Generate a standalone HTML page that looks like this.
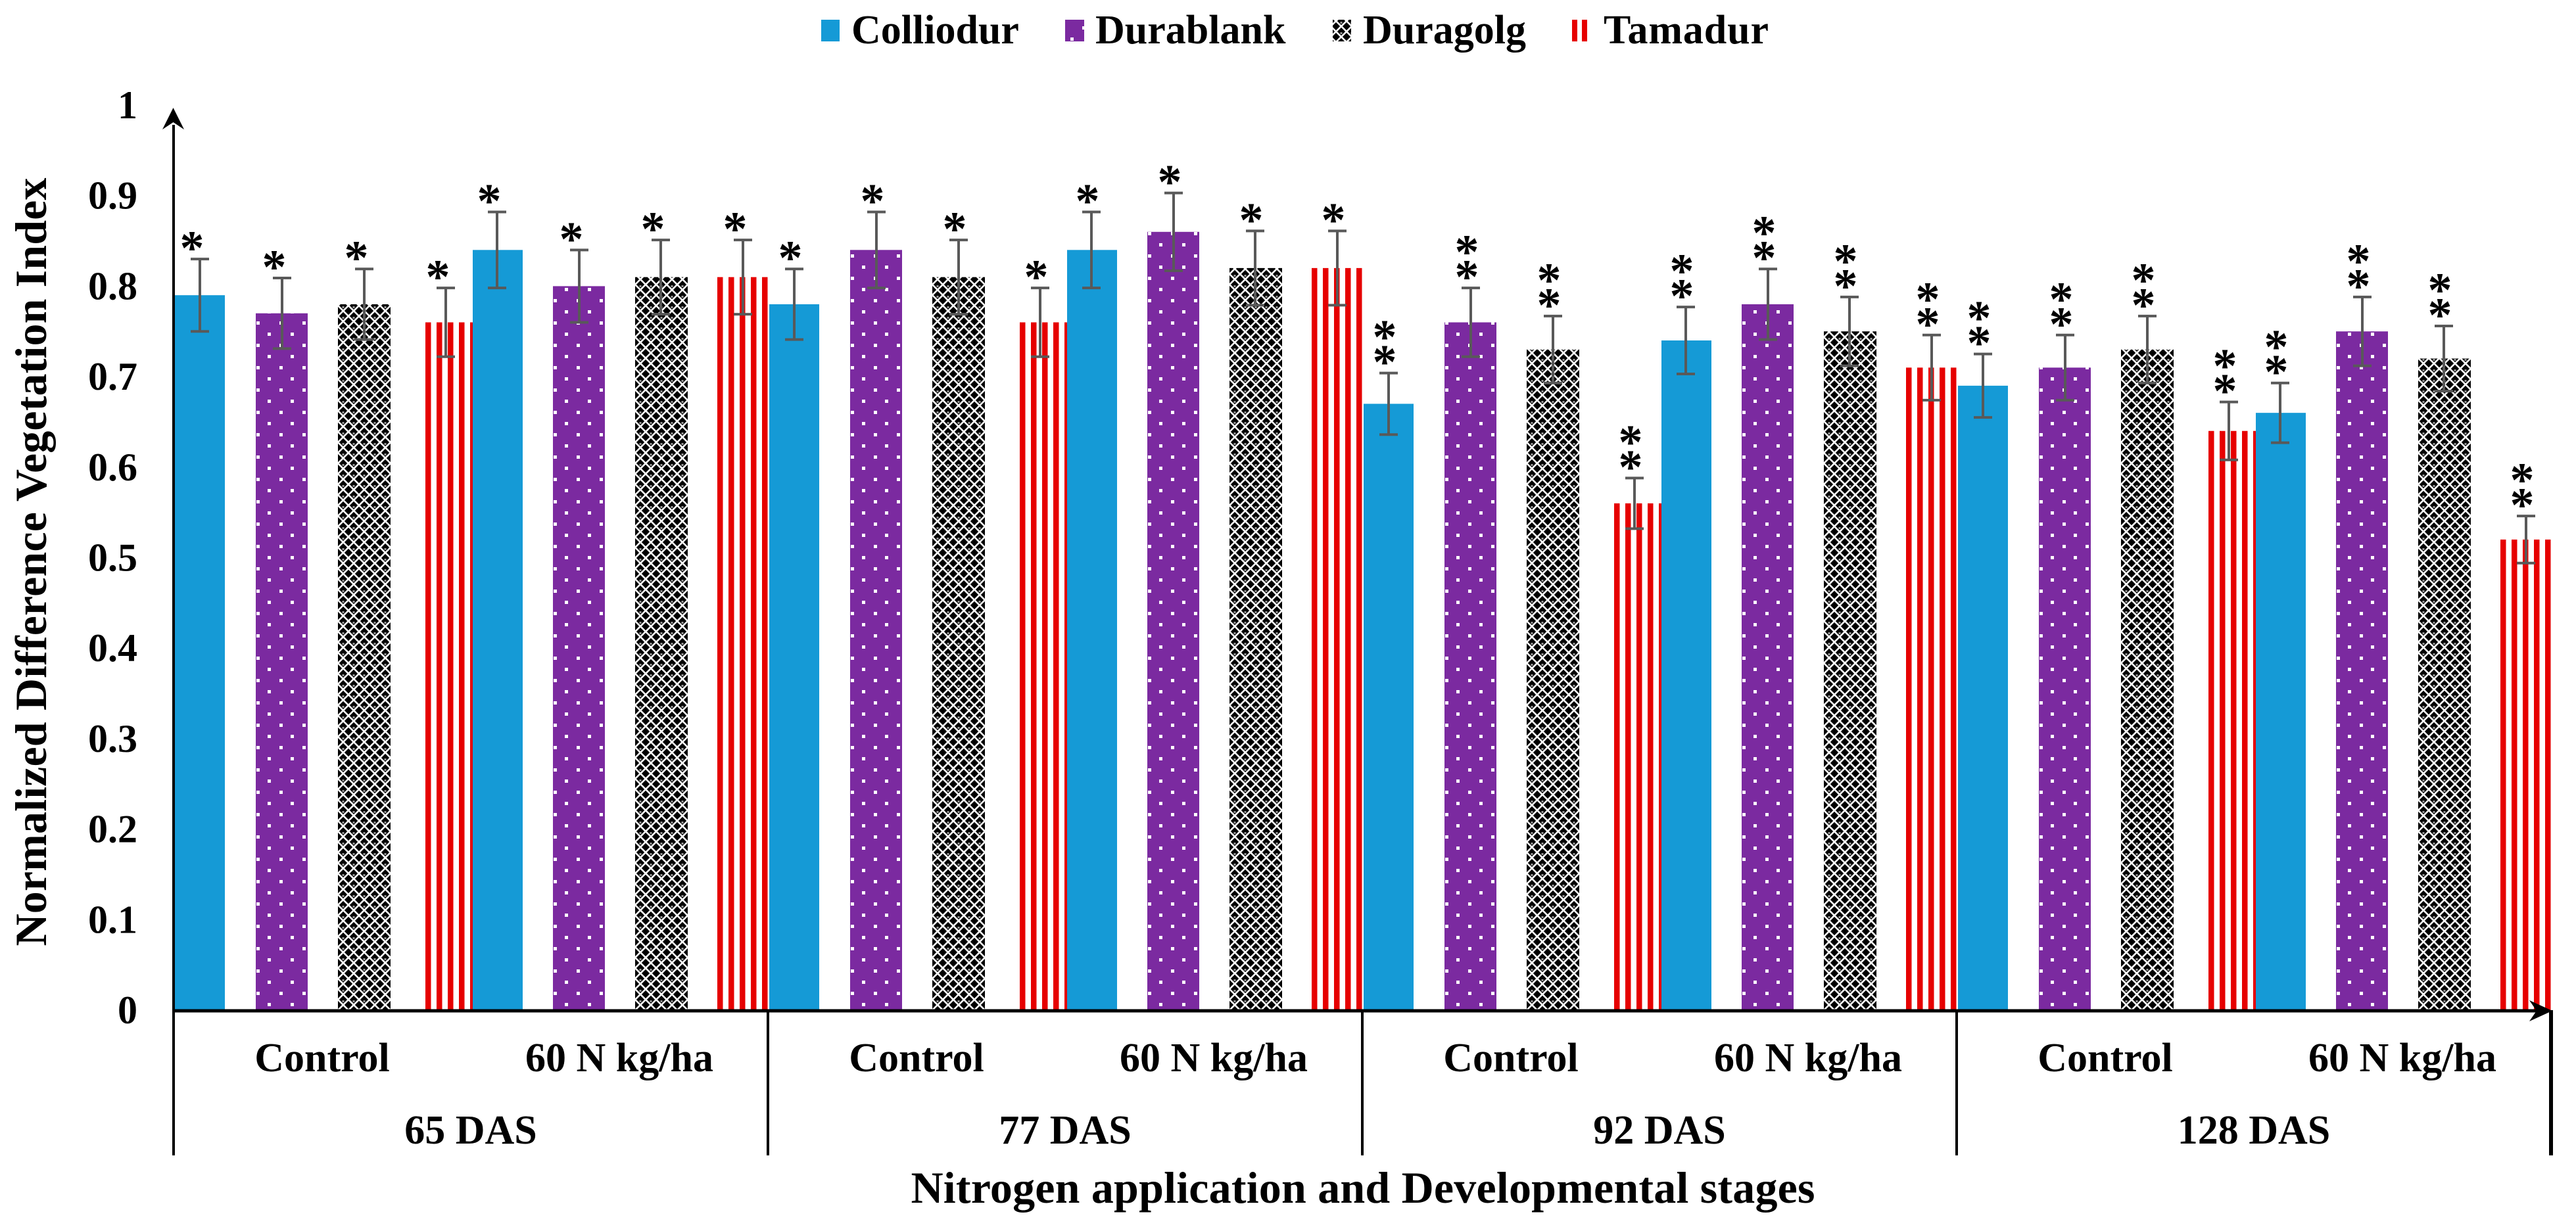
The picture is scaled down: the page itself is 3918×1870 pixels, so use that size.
<!DOCTYPE html>
<html lang="en">
<head>
<meta charset="utf-8">
<title>Normalized Difference Vegetation Index by nitrogen application and developmental stage</title>
<style>
html,body{margin:0;padding:0;background:#fff;}
svg{display:block;font-family:"Liberation Serif",serif;font-weight:bold;fill:#000;}
</style>
</head>
<body>
<svg id="chart" xmlns="http://www.w3.org/2000/svg" width="3918" height="1870" viewBox="0 0 3918 1870">
  <defs>
    <pattern id="pat-dots" patternUnits="userSpaceOnUse" width="35" height="34">
      <rect width="35" height="34" fill="#7B2AA0"/>
      <rect x="1" y="6" width="5" height="5" fill="#fff"/>
      <rect x="18" y="23" width="5" height="5" fill="#fff"/>
    </pattern>
    <pattern id="pat-mesh" patternUnits="userSpaceOnUse" width="16" height="16">
      <rect width="16" height="16" fill="#000"/>
      <path d="M0 0L16 16M16 0L0 16" stroke="#fff" stroke-width="2.6" fill="none"/>
      <rect x="6.500" y="1" width="3" height="3" fill="#fff" opacity="0.6"/>
    </pattern>
    <pattern id="pat-stripes" patternUnits="userSpaceOnUse" width="17" height="17">
      <rect width="17" height="17" fill="#fff"/>
      <rect width="8.5" height="17" fill="#E60000"/>
    </pattern>
  </defs>

  <g id="legend" font-size="62">
    <g>
      <rect x="1249" y="30" width="28" height="33" fill="#159AD6"/>
      <text x="1295" y="66">Colliodur</text>
    </g>
    <g>
      <rect x="1620" y="30" width="29" height="33" fill="url(#pat-dots)"/>
      <text x="1666" y="66">Durablank</text>
    </g>
    <g>
      <rect x="2027" y="30" width="28" height="33" fill="url(#pat-mesh)"/>
      <text x="2073" y="66">Duragolg</text>
    </g>
    <g>
      <rect x="2391" y="30" width="8" height="33" fill="#E60000"/>
      <rect x="2406" y="30" width="8" height="33" fill="#E60000"/>
      <text x="2439" y="66" textLength="251" lengthAdjust="spacing">Tamadur</text>
    </g>
  </g>

  <g id="bars"></g>
  <g id="errors"></g>
  <g id="stars"></g>
  <g id="yticks" font-size="60" text-anchor="end"></g>
  <g id="xaxis" font-size="62" text-anchor="middle"></g>

  <g>
    <line x1="264" y1="190" x2="264" y2="1758" stroke="#000" stroke-width="4"/>
    <path d="M263.500 164L280 197L263.500 186L247 197Z" fill="#000"/>
  </g>
  <g>
    <line x1="262" y1="1538" x2="3860" y2="1538" stroke="#000" stroke-width="5"/>
    <path d="M3882 1538L3847 1522L3858 1538L3847 1554Z" fill="#000"/>
  </g>

  <text font-size="68" text-anchor="middle" textLength="1169" lengthAdjust="spacing" transform="translate(70,855) rotate(-90)">Normalized Difference Vegetation Index</text>
  <text font-size="68" x="2073" y="1830" text-anchor="middle" textLength="1375" lengthAdjust="spacing">Nitrogen application and Developmental stages</text>
</svg>

<script>
// ---- chart data ----
const stages = ["65 DAS", "77 DAS", "92 DAS", "128 DAS"];
const treatments = ["Control", "60 N kg/ha"];
const yTickLabels = ["0", "0.1", "0.2", "0.3", "0.4", "0.5", "0.6", "0.7", "0.8", "0.9", "1"];
const yTickValues = [0, 0.1, 0.2, 0.3, 0.4, 0.5, 0.6, 0.7, 0.8, 0.9, 1];
const seriesNames = ["colliodur", "durablank", "duragolg", "tamadur"];

// one value per stage/treatment: 65C, 65N, 77C, 77N, 92C, 92N, 128C, 128N
const colliodur = [0.79, 0.84, 0.78, 0.84, 0.67, 0.74, 0.69, 0.66];
const durablank = [0.77, 0.80, 0.84, 0.86, 0.76, 0.78, 0.71, 0.75];
const duragolg  = [0.78, 0.81, 0.81, 0.82, 0.73, 0.75, 0.73, 0.72];
const tamadur   = [0.76, 0.81, 0.76, 0.82, 0.56, 0.71, 0.64, 0.52];

const colliodurErr = [0.040, 0.042, 0.039, 0.042, 0.034, 0.037, 0.035, 0.033];
const durablankErr = [0.039, 0.040, 0.042, 0.043, 0.038, 0.039, 0.036, 0.038];
const duragolgErr  = [0.039, 0.041, 0.041, 0.041, 0.037, 0.038, 0.037, 0.036];
const tamadurErr   = [0.038, 0.041, 0.038, 0.041, 0.028, 0.036, 0.032, 0.026];

// number of asterisks per stage
const starCounts = [1, 1, 2, 2];

// ---- layout ----
const NS = "http://www.w3.org/2000/svg";
const allValues = [colliodur, durablank, duragolg, tamadur];
const allErrors = [colliodurErr, durablankErr, duragolgErr, tamadurErr];
const fills = ["#159AD6", "url(#pat-dots)", "url(#pat-mesh)", "url(#pat-stripes)"];
const plot = { left: 264, base: 1537, perUnit: 1377, stageWidth: 904 };
const slotStart = [2, 125, 250, 383, 455, 577, 702, 827];
const slotWidth = [76, 79, 80, 72, 76, 79, 80, 77];
const errCentre = [40, 165, 290, 414, 492, 617, 741, 866];

function yScale(v) { return plot.base - v * plot.perUnit; }
function stageX(s) { return plot.left + s * plot.stageWidth; }
function slotIndex(t, k) { return t * 4 + k; }

function make(tag) { return document.createElementNS(NS, tag); }
function set(el, key, val) { el.setAttribute(key, val); return el; }

const barsG = document.getElementById("bars");
const errG = document.getElementById("errors");
const starsG = document.getElementById("stars");
const yG = document.getElementById("yticks");
const xG = document.getElementById("xaxis");

// bars, error bars, asterisks
for (let k = 0; k < 4; k++) {
  for (let c = 0; c < 8; c++) {
    const s = Math.floor(c / 2), t = c % 2;
    const slot = slotIndex(t, k);
    const v = allValues[k][c], e = allErrors[k][c];
    const x = stageX(s) + slotStart[slot];
    const barTop = yScale(v);

    const bar = make("rect");
    
    
    set(bar, "transform", "translate(" + x + "," + plot.base + ")");
    set(bar, "x", 0);
    set(bar, "y", barTop - plot.base);
    set(bar, "width", slotWidth[slot]);
    set(bar, "height", plot.base - barTop);
    set(bar, "fill", fills[k]);
    bar.dataset.order = slot + s * 8;
    barsG.appendChild(bar);

    const cx = stageX(s) + errCentre[slot];
    const yHi = yScale(v + e), yLo = yScale(v - e);
    const err = make("path");
    
    
    set(err, "d", "M" + cx + " " + yHi + "V" + yLo + "M" + (cx - 14) + " " + yHi + "H" + (cx + 14) + "M" + (cx - 14) + " " + yLo + "H" + (cx + 14));
    set(err, "stroke", "#595959");
    set(err, "stroke-width", 4);
    set(err, "fill", "none");
    errG.appendChild(err);

    const n = starCounts[s];
    const sx = cx + (s === 0 ? -12 : -6);
    for (let i = 0; i < n; i++) {
      const star = make("text");
      
      
      set(star, "x", sx);
      set(star, "y", yHi - 28 - i * 38 + 36);
      set(star, "font-size", 74);
      set(star, "text-anchor", "middle");
      star.textContent = "*";
      starsG.appendChild(star);
    }
  }
}
// paint bars left-to-right so each bar overlaps its left neighbour
Array.from(barsG.children)
  .sort((a, b) => a.dataset.order - b.dataset.order)
  .forEach(el => barsG.appendChild(el));

// y ticks
yTickValues.forEach((v, i) => {
  const lab = make("text");
  
  
  set(lab, "x", 209);
  set(lab, "y", yScale(v) + 20);
  lab.textContent = yTickLabels[i];
  yG.appendChild(lab);
});

// x multi-level axis
stages.forEach((name, s) => {
  const x0 = stageX(s);
  const w = plot.stageWidth;
  treatments.forEach((tName, t) => {
    const lab = make("text");
    
    
    set(lab, "x", x0 + w * (t * 2 + 1) / 4);
    set(lab, "y", 1630);
    lab.textContent = tName;
    xG.appendChild(lab);
  });
  const stLab = make("text");
  
  
  set(stLab, "x", x0 + w / 2);
  set(stLab, "y", 1740);
  stLab.textContent = name;
  xG.appendChild(stLab);

  const sep = make("line");
  
  
  set(sep, "x1", x0 + w);
  set(sep, "x2", x0 + w);
  set(sep, "y1", 1537);
  set(sep, "y2", 1758);
  set(sep, "stroke", "#000");
  set(sep, "stroke-width", s === 3 ? 6 : 4);
  xG.appendChild(sep);
});
</script>
</body>
</html>
